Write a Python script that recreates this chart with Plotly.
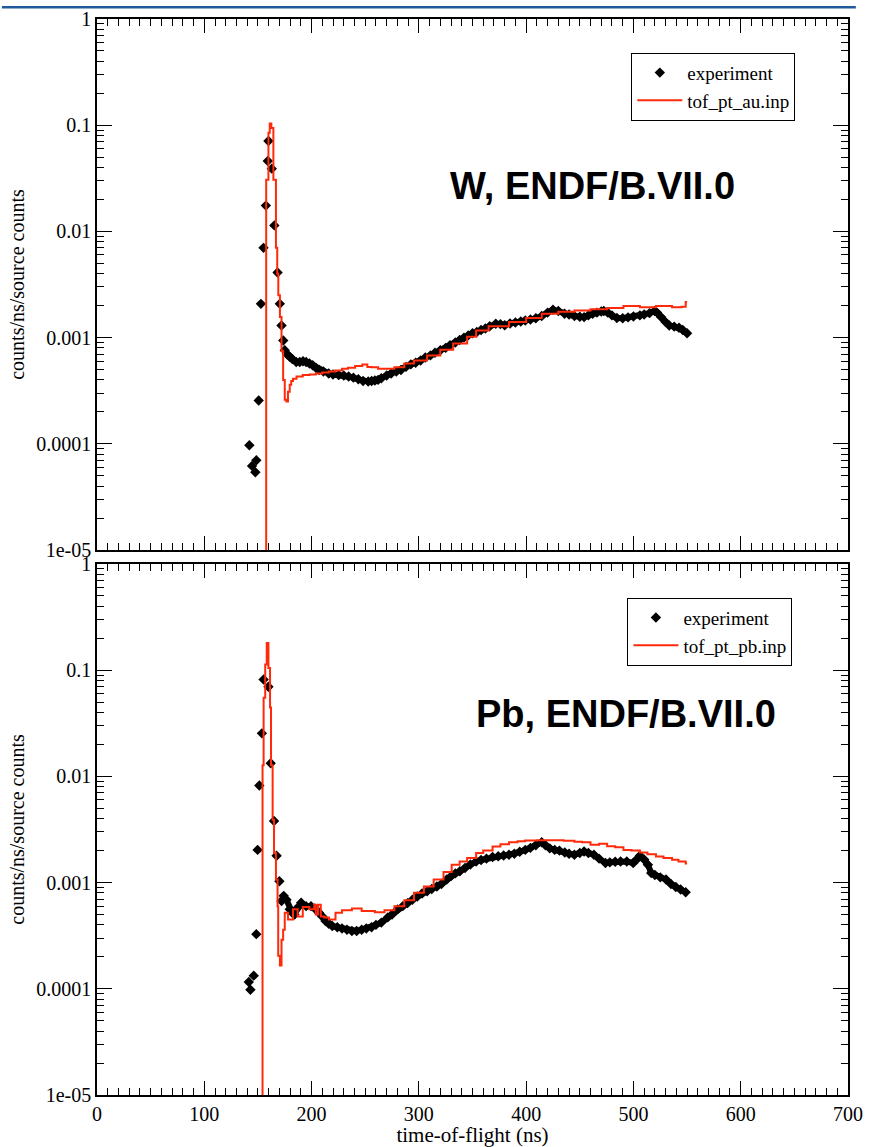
import plotly.graph_objects as go

# ---------------- data: W panel ----------------
w_exp_t = [142, 144.5, 147.6, 148.5, 150.7, 152.8, 155.2, 157.4, 159.2, 159.8, 162.9, 165.3, 168.3, 170.4, 172, 173.6, 175, 177, 179.6, 182, 185.7, 189, 192, 194.9, 198, 201, 204, 207, 211, 216, 220, 225.3, 230, 234.5, 239, 243.6, 248, 252.8, 256, 259, 262, 265, 270, 274.2, 279, 283.3, 288, 292.5, 297, 301.6, 306, 310.8, 315, 320, 325, 329, 334, 338, 342, 346, 350, 354, 358, 362, 366, 371.7, 376, 380, 385, 390, 395, 399.2, 404, 409, 414.5, 420, 425, 430, 435.8, 440, 445, 450, 454, 458, 462, 466, 470, 472.4, 476, 480, 484.6, 490, 495, 500, 506, 510, 515, 519.7, 522, 525.8, 530, 533.4, 538, 542.5, 546, 550]
w_exp_v = [9.7e-5, 6.2e-5, 5.4e-5, 7.0e-5, 2.56e-4, 2.08e-3, 7.0e-3, 0.0175, 0.046, 0.071, 0.039, 0.0114, 0.0041, 0.00208, 0.0013, 0.00094, 0.00076, 0.0007, 0.00066, 0.00063, 0.00059, 0.00059, 0.0006, 0.00059, 0.00057, 0.00055, 0.00052, 0.000495, 0.00048, 0.00046, 0.00045, 0.000445, 0.00044, 0.00043, 0.00042, 0.000405, 0.00039, 0.000386, 0.00039, 0.000395, 0.0004, 0.000414, 0.00044, 0.00046, 0.00048, 0.000495, 0.00053, 0.00056, 0.00058, 0.00061, 0.00065, 0.00068, 0.00072, 0.00076, 0.0008, 0.00085, 0.0009, 0.00095, 0.001, 0.00105, 0.0011, 0.00113, 0.00118, 0.00122, 0.00128, 0.00135, 0.00134, 0.00131, 0.00136, 0.00139, 0.00142, 0.00145, 0.00148, 0.00152, 0.0016, 0.00172, 0.00183, 0.00178, 0.00168, 0.00165, 0.0016, 0.00157, 0.00156, 0.00162, 0.00168, 0.00172, 0.00176, 0.00178, 0.00172, 0.00162, 0.00153, 0.00152, 0.00155, 0.00158, 0.00162, 0.00165, 0.0017, 0.00178, 0.00172, 0.00156, 0.0014, 0.0013, 0.00127, 0.00124, 0.00118, 0.0011]

w_sim_t = [150, 157.7, 159.8, 161, 162.5, 164.4, 166.8, 168.0, 169.0, 170.5, 172, 173.5, 175, 176.5, 178, 179.6, 181, 182.7, 186, 191.8, 198, 204, 210, 216, 222, 228.4, 234, 240.6, 247.3, 252, 255.9, 262, 268, 277.2, 286.4, 295.5, 307.7, 320, 332, 345, 353.4, 365, 384, 400, 414.5, 430, 445, 460, 475.5, 490.7, 506, 521, 536, 545, 548.7, 550]
w_sim_v = [1e-8, 0.0306, 0.085, 0.104, 0.094, 0.0306, 0.0070, 0.0040, 0.0025, 0.00156, 0.00075, 0.0004, 0.00026, 0.00025, 0.00031, 0.00036, 0.00039, 0.00041, 0.00043, 0.000445, 0.00045, 0.00046, 0.00047, 0.00048, 0.00049, 0.00051, 0.00052, 0.00054, 0.00056, 0.00053, 0.000525, 0.00051, 0.00051, 0.000525, 0.00057, 0.00061, 0.00068, 0.00077, 0.00088, 0.00102, 0.00117, 0.00128, 0.0014, 0.00153, 0.00168, 0.00175, 0.0018, 0.00185, 0.0019, 0.00199, 0.00193, 0.00199, 0.00193, 0.00195, 0.00216, 0.00216]

# ---------------- data: Pb panel ----------------
pb_exp_t = [141.5, 143, 146.1, 148.5, 149.7, 151.3, 153.7, 155.3, 159.8, 161.9, 165, 167.4, 170, 172, 174, 176.6, 179.6, 182, 184, 187, 190.3, 194.9, 199.5, 203, 207, 210, 213, 216, 219.3, 224, 228.4, 233, 237.6, 242, 246.7, 251, 255.9, 260, 265, 271, 275, 280.2, 285, 289.4, 294, 298.5, 303, 307.7, 312, 316.8, 321, 326, 330, 334, 338.2, 343, 348, 353.4, 358, 363, 368.7, 374, 379, 384, 389, 394, 399.2, 404, 409, 414.5, 418, 422, 426.6, 431, 436, 440, 445, 450, 454, 458, 463.2, 468, 473.9, 478, 483, 488, 493.8, 499.8, 503, 506, 510, 513.5, 516.6, 520, 525, 530.4, 535, 539.5, 544, 548.7]
pb_exp_v = [1.16e-4, 9.8e-5, 1.33e-4, 3.27e-4, 2.03e-3, 8.2e-3, 0.0254, 0.0818, 0.0698, 0.0133, 0.0038, 0.00179, 0.00103, 0.00067, 0.00075, 0.00069, 0.00056, 0.00052, 0.0005, 0.00058, 0.000645, 0.0006, 0.0006, 0.00057, 0.00052, 0.00048, 0.000435, 0.00041, 0.00039, 0.00038, 0.00037, 0.00036, 0.00035, 0.00035, 0.00036, 0.00037, 0.00038, 0.0004, 0.00042, 0.00047, 0.0005, 0.00056, 0.0006, 0.00064, 0.00069, 0.00074, 0.00079, 0.00083, 0.00087, 0.00092, 0.00097, 0.00107, 0.00115, 0.00122, 0.00128, 0.00137, 0.00148, 0.00158, 0.00163, 0.00168, 0.00174, 0.00177, 0.0018, 0.00183, 0.00187, 0.00195, 0.00203, 0.00212, 0.00225, 0.0024, 0.00225, 0.0021, 0.00203, 0.002, 0.00192, 0.00187, 0.00183, 0.0019, 0.00196, 0.0019, 0.00183, 0.00168, 0.00153, 0.00155, 0.00157, 0.00158, 0.00158, 0.00153, 0.00165, 0.00179, 0.00165, 0.00147, 0.00123, 0.00118, 0.00112, 0.00107, 0.00097, 0.00091, 0.00086, 0.00081]

pb_sim_t = [145, 154.3, 155.3, 156.8, 158.2, 159.8, 161.3, 162.2, 163.7, 165, 166.8, 168.3, 168.9, 170.5, 172, 173.5, 175, 178, 182.7, 187, 191.8, 198, 202.5, 204, 206, 208.6, 212, 216.2, 222.3, 228.4, 237.6, 246.7, 259, 268, 277.2, 286.4, 295.5, 304.7, 313.8, 323, 330.6, 338, 345, 353.4, 360, 368.7, 376, 384, 392, 399, 410, 423.6, 435, 445, 452, 460, 468, 475.5, 483, 490.7, 498, 506, 513, 521, 528, 536, 542, 548.7, 550]
pb_sim_v = [1e-8, 0.0127, 0.055, 0.113, 0.18, 0.105, 0.0445, 0.0127, 0.0039, 0.0019, 0.00107, 0.0006, 0.000205, 0.000166, 0.00029, 0.00036, 0.00052, 0.00045, 0.00056, 0.00048, 0.00059, 0.00056, 0.00062, 0.0005, 0.00062, 0.00048, 0.00047, 0.00045, 0.00052, 0.00055, 0.00057, 0.00054, 0.000525, 0.00055, 0.0006, 0.00068, 0.0008, 0.00092, 0.00107, 0.00126, 0.00147, 0.00158, 0.0017, 0.0019, 0.002, 0.00219, 0.0023, 0.0024, 0.00245, 0.00249, 0.0025, 0.0025, 0.00248, 0.00243, 0.0024, 0.00227, 0.00232, 0.0022, 0.00215, 0.00203, 0.002, 0.00192, 0.00185, 0.00176, 0.0017, 0.00164, 0.00158, 0.00151, 0.00151]

y_tickvals = [1e-5, 1e-4, 1e-3, 1e-2, 1e-1, 1]
y_ticktext = ["1e-05", "0.0001", "0.001", "0.01", "0.1", "1"]
x_tickvals = [0, 100, 200, 300, 400, 500, 600, 700]
y_minor_vals = [m * d for d in [1e-5, 1e-4, 1e-3, 1e-2, 1e-1] for m in range(2, 10)]

labels_top = ("experiment", "tof_pt_au.inp", "W, ENDF/B.VII.0")
labels_bot = ("experiment", "tof_pt_pb.inp", "Pb, ENDF/B.VII.0")

RED = "#ff2a0a"
SERIF = "Liberation Serif, Times New Roman, Times, serif"
SANS = "Liberation Sans, Arial, Helvetica, sans-serif"

fig = go.Figure()

def add_panel(exp_t, exp_v, sim_t, sim_v, labels, xa, ya, lg, dense_from):
    # thick band joining the dense measured points (no legend entry)
    fig.add_trace(go.Scatter(x=exp_t[dense_from:], y=exp_v[dense_from:], mode="lines",
                             line=dict(color="black", width=6), showlegend=False,
                             hoverinfo="skip", xaxis=xa, yaxis=ya))
    fig.add_trace(go.Scatter(x=exp_t, y=exp_v, mode="markers", name=labels[0],
                             marker=dict(symbol="diamond", size=8, color="black"),
                             xaxis=xa, yaxis=ya, legend=lg))
    fig.add_trace(go.Scatter(x=sim_t, y=sim_v, mode="lines", name=labels[1],
                             line=dict(color=RED, width=2, shape="hv"),
                             xaxis=xa, yaxis=ya, legend=lg))

add_panel(w_exp_t, w_exp_v, w_sim_t, w_sim_v, labels_top, "x", "y", "legend", 16)
add_panel(pb_exp_t, pb_exp_v, pb_sim_t, pb_sim_v, labels_bot, "x2", "y2", "legend2", 13)

H_PLOT = 1147 - 13 - 50
top_dom = [(1097 - 548) / H_PLOT, 1.0]
bot_dom = [0.0, 535 / H_PLOT]

common_x = dict(range=[0, 700], showline=True, linewidth=1.5, linecolor="black",
                mirror="allticks", ticks="inside", ticklen=14, tickwidth=1.2, tickcolor="black",
                tickvals=x_tickvals, showgrid=False, zeroline=False, ticklabeloverflow="allow",
                minor=dict(ticks="inside", dtick=10, ticklen=7, tickwidth=1.2, tickcolor="black", showgrid=False),
                tickfont=dict(family=SERIF, size=20, color="black"))
common_y = dict(type="log", range=[-5, 0], showline=True, linewidth=1.5, linecolor="black",
                mirror="allticks", ticks="inside", ticklen=15, tickwidth=1.2, tickcolor="black",
                tickvals=y_tickvals, ticktext=y_ticktext, showgrid=False, zeroline=False,
                minor=dict(ticks="inside", tickmode="array", tickvals=y_minor_vals, ticklen=7,
                           tickwidth=1.2, tickcolor="black", showgrid=False),
                tickfont=dict(family=SERIF, size=20, color="black"),
                title=dict(text="counts/ns/source counts", font=dict(family=SERIF, size=20, color="black"), standoff=6))

fig.update_layout(
    width=871, height=1147,
    margin=dict(l=97, r=8, t=13, b=50),
    paper_bgcolor="white", plot_bgcolor="white",
    xaxis=dict(common_x, domain=[0, 1], anchor="y", showticklabels=False),
    yaxis=dict(common_y, domain=top_dom, anchor="x"),
    xaxis2=dict(common_x, domain=[0, 1], anchor="y2",
                title=dict(text="time-of-flight (ns)", font=dict(family=SERIF, size=21, color="black"), standoff=0)),
    yaxis2=dict(common_y, domain=bot_dom, anchor="x2"),
    legend=dict(x=(642 - 97) / 766, y=(1097 - 47) / H_PLOT, xanchor="left", yanchor="top",
                bordercolor="black", borderwidth=1, bgcolor="white", itemwidth=45,
                font=dict(family=SERIF, size=19, color="black"), tracegroupgap=0),
    legend2=dict(x=(638 - 97) / 766, y=(1097 - 596) / H_PLOT, xanchor="left", yanchor="top",
                 bordercolor="black", borderwidth=1, bgcolor="white", itemwidth=45,
                 font=dict(family=SERIF, size=19, color="black"), tracegroupgap=0),
    showlegend=True,
)

fig.add_annotation(text="<b>" + labels_top[2] + "</b>", xref="paper", yref="paper",
                   x=(602 - 97) / 766, y=(1097 - 181) / H_PLOT, xanchor="center", yanchor="middle",
                   showarrow=False, font=dict(family=SANS, size=38, color="black"))
fig.add_annotation(text="<b>" + labels_bot[2] + "</b>", xref="paper", yref="paper",
                   x=(637 - 97) / 766, y=(1097 - 713) / H_PLOT, xanchor="center", yanchor="middle",
                   showarrow=False, font=dict(family=SANS, size=38, color="black"))

# thin blue slide rule at the very top
fig.add_shape(type="rect", xref="paper", yref="paper",
              x0=-97 / 766, x1=(871 - 97) / 766,
              y0=1 + 10.5 / H_PLOT, y1=1 + 13 / H_PLOT,
              line=dict(width=0), fillcolor="#1f5a9c", layer="above")

fig.write_html("out.html")
